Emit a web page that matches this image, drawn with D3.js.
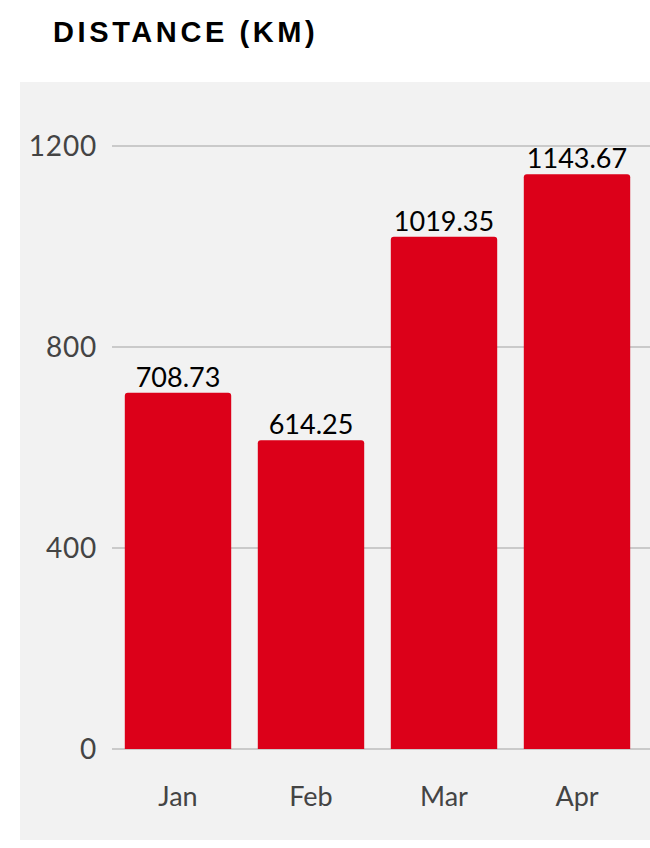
<!DOCTYPE html>
<html><head><meta charset="utf-8">
<script src="https://cdn.jsdelivr.net/npm/d3@7"></script>
<style>
html,body{margin:0;padding:0;background:#fff;}
svg{display:block;}
</style></head>
<body>
<script>
const categories = ["Jan", "Feb", "Mar", "Apr"];
const distances = [708.73, 614.25, 1019.35, 1143.67];
const yTicks = [0, 400, 800, 1200];
const title = "DISTANCE (KM)";

const W = 650, H = 848;
const svg = d3.select("body").append("svg").attr("width", W).attr("height", H);

svg.append("text").attr("x", 53).attr("y", 42)
  .attr("font-family", "Liberation Sans, Arial, sans-serif")
  .attr("font-weight", "bold").attr("font-size", 29)
  .attr("letter-spacing", 3.6).attr("fill", "#000").text(title);

svg.append("rect").attr("x", 20).attr("y", 82).attr("width", W - 20).attr("height", 758).attr("fill", "#f2f2f2");

const x = d3.scaleBand().domain(categories).range([111.5, 643.5]).paddingInner(0.2).paddingOuter(0.1);
const y = d3.scaleLinear().domain([0, 1200]).range([749, 146]);

const font = "Lato, 'Open Sans', sans-serif";

const grid = svg.append("g");
grid.selectAll("line").data(yTicks).join("line")
  .attr("x1", 112).attr("x2", W).attr("y1", d => y(d)).attr("y2", d => y(d))
  .attr("stroke", "#bdbdbd").attr("stroke-width", 1.5);
grid.selectAll("text").data(yTicks).join("text")
  .attr("x", 97).attr("y", d => y(d)).attr("dy", "0.36em").attr("text-anchor", "end")
  .attr("font-family", font).attr("font-size", 28).attr("letter-spacing", 0.8).attr("fill", "#444").text(d => d);

svg.append("g").selectAll("path").data(distances).join("path")
  .attr("fill", "#dc0019")
  .attr("d", (d, i) => {
    const x0 = x(categories[i]), w = x.bandwidth(), y0 = y(d), y1 = y(0), r = 3;
    return `M${x0},${y1}V${y0 + r}Q${x0},${y0} ${x0 + r},${y0}H${x0 + w - r}Q${x0 + w},${y0} ${x0 + w},${y0 + r}V${y1}Z`;
  });

svg.append("g").selectAll("text").data(distances).join("text")
  .attr("x", (d, i) => x(categories[i]) + x.bandwidth() / 2)
  .attr("y", d => y(d) - 6).attr("text-anchor", "middle")
  .attr("font-family", font).attr("font-size", 27).attr("fill", "#000")
  .text(d => d.toFixed(2));

svg.append("g").selectAll("text").data(categories).join("text")
  .attr("x", d => x(d) + x.bandwidth() / 2).attr("y", 806).attr("text-anchor", "middle")
  .attr("font-family", font).attr("font-size", 27).attr("fill", "#444").text(d => d);
</script>
</body></html>
